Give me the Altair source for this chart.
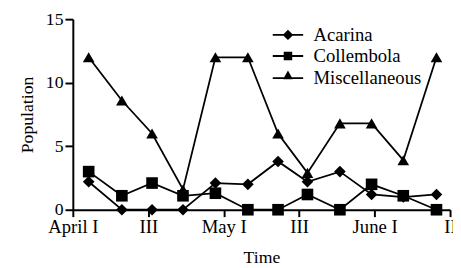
import altair as alt
import pandas as pd

# ---- data ----
time_pos = [0.21, 0.65, 1.05, 1.46, 1.89, 2.32, 2.72, 3.11, 3.54, 3.96, 4.38, 4.82]
acarina = [2.2, 0.0, 0.0, 0.0, 2.1, 2.0, 3.8, 2.2, 3.0, 1.2, 1.0, 1.2]
collembola = [3.0, 1.1, 2.1, 1.1, 1.3, 0.0, 0.0, 1.2, 0.0, 2.0, 1.1, 0.0]
miscellaneous = [12.0, 8.6, 6.0, 1.6, 12.0, 12.0, 6.0, 2.9, 6.8, 6.8, 3.9, 12.0]
series = ["Acarina", "Collembola", "Miscellaneous"]
marker_shapes = ["diamond", "square", "triangle-up"]
tick_values = [0, 1, 2, 3, 4, 5]
tick_labels = ["April I", "III", "May I", "III", "June I", "II"]
y_ticks = [0, 5, 10, 15]

rows = []
for name, vals in zip(series, [acarina, collembola, miscellaneous]):
    for t, v in zip(time_pos, vals):
        rows.append({"series": name, "time": t, "value": v})
df = pd.DataFrame(rows)

FONT = "Liberation Serif"
label_expr = "[" + ",".join("'%s'" % s for s in tick_labels) + "][datum.value]"

x = alt.X("time:Q", scale=alt.Scale(domain=[0, 5], nice=False, zero=False),
          axis=alt.Axis(values=tick_values, labelExpr=label_expr, title="Time",
                        tickSize=7, labelPadding=1, titlePadding=13,
                        labelFlush=False, labelOverlap=False,
                        labelFont=FONT, titleFont=FONT, labelFontSize=19))
y = alt.Y("value:Q", scale=alt.Scale(domain=[0, 15], nice=False),
          axis=alt.Axis(values=y_ticks, title="Population", tickSize=8,
                        labelPadding=2, titlePadding=9,
                        labelFont=FONT, titleFont=FONT))

base = alt.Chart(df)

lines = base.mark_line(color="black", strokeWidth=1.8).encode(
    x=x, y=y, detail="series:N")

marker_layers = [
    base.transform_filter(alt.datum.series == name).mark_point(
        filled=True, color="black", size=140, opacity=1, shape=shp).encode(x=x, y=y)
    for name, shp in zip(series, marker_shapes)
]

# legend symbols: a short line (thin filled bar) with the series' marker on it
legend_paths = [
    "M-1.72,-0.1H1.72V0.1H-1.72Z M-0.6,0L0,-0.58L0.6,0L0,0.58Z",
    "M-1.72,-0.1H1.72V0.1H-1.72Z M-0.48,-0.48H0.48V0.48H-0.48Z",
    "M-1.72,-0.1H1.72V0.1H-1.72Z M0,-0.85L0.55,0.12L-0.55,0.12Z",
]

legend_layer = base.transform_filter("false").mark_point(
    filled=True, color="black", opacity=1).encode(
    x=x, y=y,
    shape=alt.Shape("series:N",
                    scale=alt.Scale(domain=series, range=legend_paths),
                    legend=alt.Legend(title=None, orient="none", legendX=209, legendY=6,
                                      symbolSize=324, symbolFillColor="black",
                                      symbolOpacity=1, labelOffset=16, rowPadding=1.5,
                                      labelFont=FONT, labelFontSize=19,
                                      labelColor="black", padding=0)))

chart = alt.layer(lines, *marker_layers, legend_layer).properties(
    width=384, height=194,
    autosize=alt.AutoSizeParams(type="none"),
    padding={"left": 66, "top": 9, "right": 3, "bottom": 60},
    background="white",
).configure_view(stroke=None).configure_axis(
    grid=False, domainColor="black", domainWidth=2, tickColor="black", tickWidth=2,
    labelFont=FONT, labelFontSize=18, labelColor="black",
    titleFont=FONT, titleFontSize=18, titleColor="black", titleFontWeight="normal",
).configure_legend(labelFont=FONT, labelFontSize=19, labelColor="black")

chart.save("out.html", embed_options={"renderer": "svg", "actions": False})
